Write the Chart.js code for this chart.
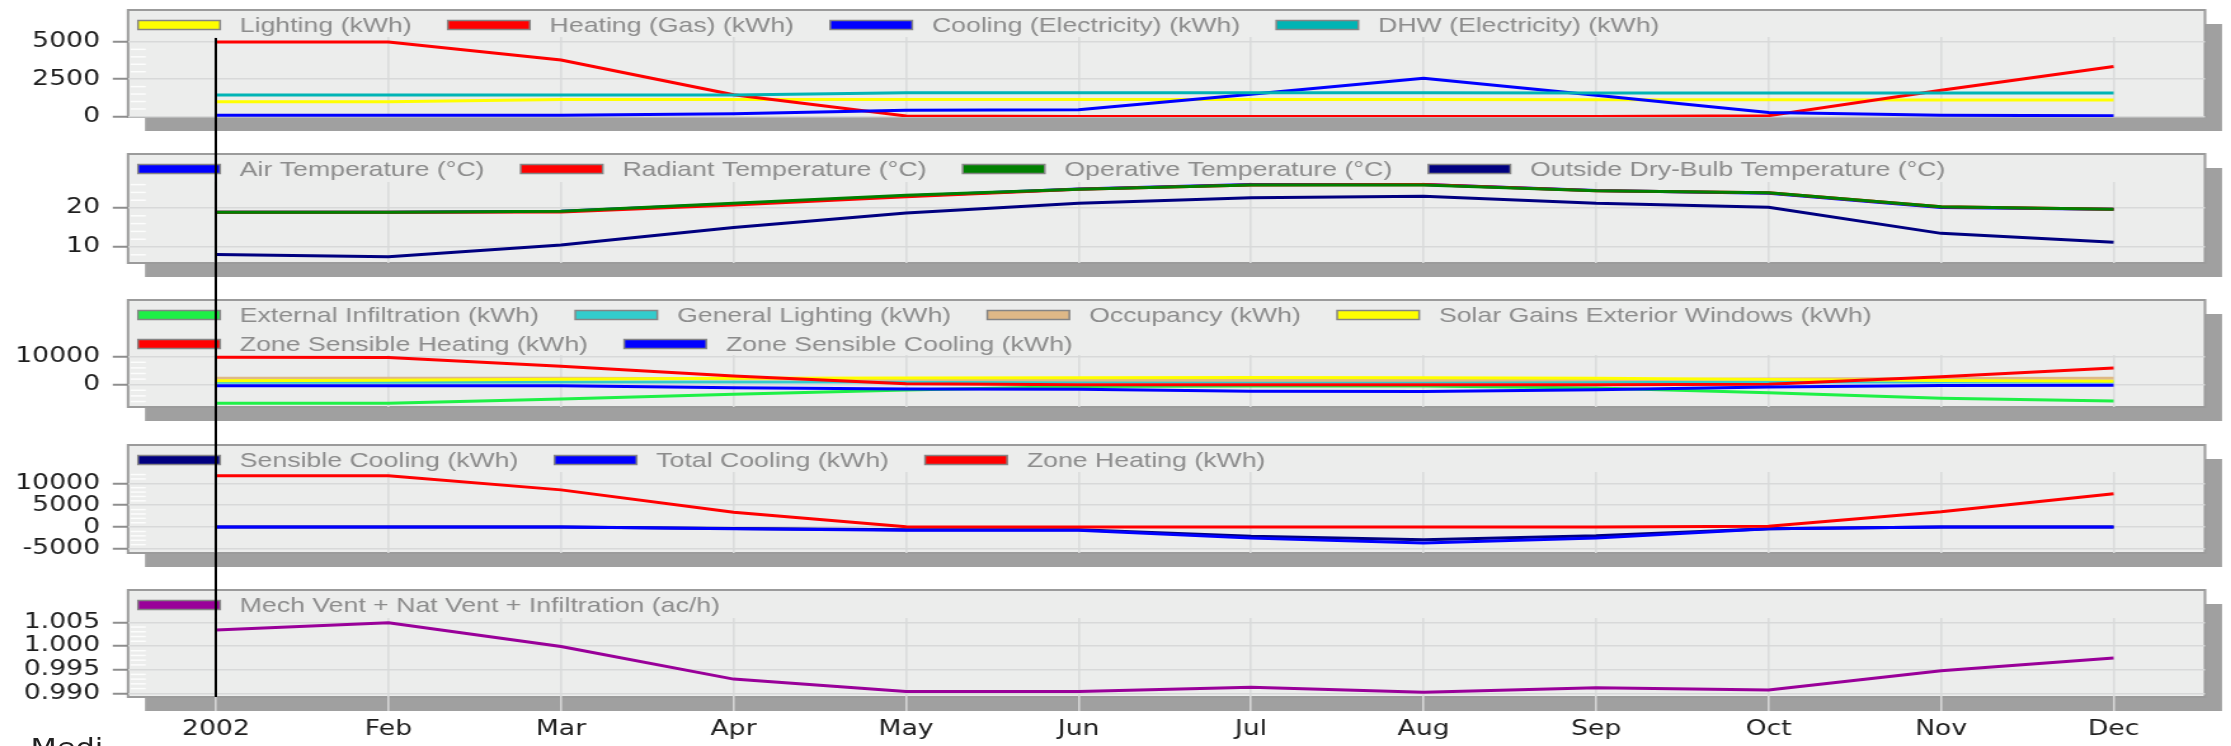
<!DOCTYPE html>
<html>
<head>
<meta charset="utf-8">
<title>Zone monthly results 2002</title>
<script src="https://cdn.jsdelivr.net/npm/chart.js@4.4.1/dist/chart.umd.min.js"></script>
<style>
  html, body { margin: 0; padding: 0; background: #fff; overflow: hidden; }
  /* the source picture is stretched sideways, so draw narrow and scale up */
  #page { position: relative; width: 1757px; height: 746px; overflow: hidden; transform: scaleX(1.2698); transform-origin: 0 0; }
  #page canvas { position: absolute; left: 0; }
  #cursor { position: absolute; background: #000; width: 1.6px; }
  #caption { position: absolute; left: 24px; top: 736px; font: 24px/24px "DejaVu Sans", Verdana, sans-serif; color: #222; white-space: nowrap; }
</style>
</head>
<body>
<div id="page">
  <canvas id="c1"></canvas>
  <canvas id="c2"></canvas>
  <canvas id="c3"></canvas>
  <canvas id="c4"></canvas>
  <canvas id="c5"></canvas>
  <div id="cursor"></div>
  <div id="caption">Medi</div>
</div>
<script>
// x axis
const monthLabels = ['2002', 'Feb', 'Mar', 'Apr', 'May', 'Jun', 'Jul', 'Aug', 'Sep', 'Oct', 'Nov', 'Dec'];

// fuel breakdown (kWh)
const lighting    = [980, 990, 1130, 1130, 1130, 1130, 1130, 1130, 1120, 1110, 1100, 1100];
const heatingGas  = [5000, 5000, 3780, 1450, 30, 0, 0, 0, 0, 50, 1750, 3350];
const coolingElec = [70, 70, 70, 180, 420, 450, 1480, 2560, 1420, 260, 80, 40];
const dhwElec     = [1430, 1430, 1430, 1430, 1590, 1590, 1590, 1590, 1570, 1570, 1570, 1570];
const ticks1 = [0, 2500, 5000];

// temperatures (C)
const airTemp       = [18.9, 18.9, 19.2, 21.0, 23.1, 24.9, 26.0, 26.0, 24.5, 23.8, 20.1, 19.7];
const radiantTemp   = [18.9, 18.9, 19.0, 20.8, 22.9, 24.8, 25.9, 26.0, 24.4, 23.9, 20.3, 19.7];
const operativeTemp = [18.9, 18.9, 19.2, 21.2, 23.3, 24.8, 25.9, 25.9, 24.4, 23.9, 20.3, 19.7];
const outsideTemp   = [8.1, 7.5, 10.5, 15.0, 18.7, 21.2, 22.6, 23.0, 21.2, 20.2, 13.5, 11.2];
const ticks2 = [10, 20];

// heat balance (kWh)
const extInfiltration = [-6650, -6650, -5100, -3400, -1900, -600, -500, -500, -1200, -2900, -4800, -5800];
const generalLighting = [900, 900, 1000, 1000, 1000, 1000, 1000, 1000, 1000, 1000, 1000, 1000];
const occupancy       = [2300, 2300, 2300, 2100, 1900, 1700, 1600, 1600, 1800, 2000, 2200, 2300];
const solarGains      = [1450, 1600, 1940, 2300, 2400, 2500, 2600, 2500, 2300, 1900, 1500, 1200];
const zoneSensHeating = [9800, 9700, 6600, 3100, 300, 0, 0, 0, 0, 200, 2800, 6000];
const zoneSensCooling = [-350, -350, -400, -1070, -1500, -1600, -2300, -2400, -1800, -800, -300, -200];
const ticks3 = [0, 10000];

// heating / cooling loads (kWh)
const sensibleCooling = [0, 0, 0, -300, -600, -600, -2100, -2900, -2000, -350, 0, 0];
const totalCooling    = [0, 0, 0, -360, -700, -700, -2500, -3600, -2500, -400, 0, 0];
const zoneHeating     = [11700, 11700, 8500, 3400, 100, 0, 0, 0, 0, 200, 3500, 7600];
const ticks4 = [-5000, 0, 5000, 10000];

// air changes (ac/h)
const ventAch = [1.00337, 1.0049, 0.99988, 0.9930, 0.99038, 0.9904, 0.99128, 0.9902, 0.99118, 0.9907, 0.99477, 0.99745];
const ticks5 = [0.990, 0.995, 1.000, 1.005];

const SX = 1.2698;          // horizontal stretch
const CANVAS_W = 1757;
const BOX_L = 100.8;        // box left edge (unscaled px)
const BOX_R = 1736.5;       // box right edge
const X_MIN = -0.51, X_MAX = 11.53;
const tickFont = { family: '"DejaVu Sans", Verdana, sans-serif', size: 21 };

const toXY = arr => arr.map((y, i) => ({ x: i, y: y }));

// draws the grey box, its drop shadow, minor ticks and the legend rows
const panelBox = {
  id: 'panelBox',
  beforeDraw(chart, args, o) {
    const { ctx, chartArea } = chart;
    const top = o.boxTop;
    const w = chartArea.right - chartArea.left;
    const h = chartArea.bottom - top;
    ctx.save();
    ctx.fillStyle = '#a0a0a0';
    ctx.fillRect(chartArea.left + 13.4, top + 14, w, h);
    ctx.fillStyle = '#ecedec';
    ctx.fillRect(chartArea.left, top, w, h);

    // faint minor ticks on the inside of the left edge
    const ys = chart.scales.y;
    const major = ys.ticks.map(t => t.value);
    const minor = (major[1] - major[0]) / 5;
    ctx.strokeStyle = 'rgba(255,255,255,0.85)';
    ctx.lineWidth = 1.5;
    for (let k = Math.ceil(ys.min / minor); k * minor <= ys.max; k++) {
      const v = k * minor;
      if (major.some(m => Math.abs(m - v) < minor / 10)) continue;
      const py = ys.getPixelForValue(v);
      ctx.beginPath();
      ctx.moveTo(chartArea.left + 2, py);
      ctx.lineTo(chartArea.left + 14, py);
      ctx.stroke();
    }

    ctx.strokeStyle = '#9b9b9b';
    ctx.lineWidth = 2;
    ctx.strokeRect(chartArea.left, top, w, h);

    ctx.font = '21px "Liberation Sans", Arial, sans-serif';
    ctx.textBaseline = 'middle';
    o.rows.forEach((row, r) => {
      let x = chartArea.left + 7.9;
      const y = top + 15 + r * 29;
      row.forEach(i => {
        const ds = chart.data.datasets[i];
        ctx.fillStyle = ds.borderColor;
        ctx.fillRect(x, y - 4.5, 64.6, 9);
        ctx.strokeStyle = '#858585';
        ctx.lineWidth = 1.5;
        ctx.strokeRect(x, y - 4.5, 64.6, 9);
        x += 64.6 + 15.5;
        ctx.fillStyle = '#8c8c8c';
        ctx.fillText(ds.label, x, y + 1);
        x += ctx.measureText(ds.label).width + 28.5;
      });
    });
    ctx.restore();
  }
};

function makePanel(id, geo, series, yOpts, rows, showX) {
  const canvas = document.getElementById(id);
  const cTop = geo.boxTop - 3;
  const cBottom = showX ? 746 : geo.plotBottom + 28;
  const cH = cBottom - cTop;
  canvas.width = CANVAS_W;
  canvas.height = cH;
  canvas.style.top = cTop + 'px';
  canvas.style.width = CANVAS_W + 'px';
  canvas.style.height = cH + 'px';

  const n = series.length;
  const datasets = series.map((s, i) => ({
    label: s.label,
    data: toXY(s.data),
    borderColor: s.color,
    backgroundColor: s.color,
    borderWidth: 3,
    pointRadius: 0,
    tension: 0,
    fill: false,
    order: n - i
  }));

  return new Chart(canvas, {
    type: 'line',
    data: { datasets: datasets },
    plugins: [panelBox],
    options: {
      responsive: false,
      animation: false,
      events: [],
      layout: {
        padding: {
          left: 0,
          right: CANVAS_W - BOX_R,
          top: geo.plotTop - cTop,
          bottom: showX ? 0 : cBottom - geo.plotBottom
        }
      },
      plugins: {
        legend: { display: false },
        tooltip: { enabled: false },
        panelBox: { boxTop: geo.boxTop - cTop, rows: rows }
      },
      scales: {
        x: {
          type: 'linear',
          min: X_MIN,
          max: X_MAX,
          border: { display: false },
          grid: {
            color: '#dbdcdc',
            lineWidth: 1.6,
            drawTicks: showX,
            tickLength: 14,
            tickColor: '#d6d6d6',
            tickWidth: 1.6
          },
          ticks: {
            display: showX,
            autoSkip: false,
            maxRotation: 0,
            padding: 6,
            color: '#1e1e1e',
            font: tickFont,
            callback: v => monthLabels[v]
          },
          afterBuildTicks: s => { s.ticks = monthLabels.map((m, i) => ({ value: i })); },
          afterFit: s => { s.height = showX ? cBottom - geo.plotBottom : 0; }
        },
        y: {
          min: yOpts.min,
          max: yOpts.max,
          border: { display: false },
          grid: {
            color: '#d8d9d9',
            lineWidth: 1.5,
            tickLength: 12,
            tickColor: '#8e8e8e',
            tickWidth: 2
          },
          ticks: {
            autoSkip: false,
            padding: 10,
            color: '#1e1e1e',
            font: tickFont,
            callback: yOpts.fmt || (v => String(v))
          },
          afterBuildTicks: s => { s.ticks = yOpts.ticks.map(v => ({ value: v })); },
          afterFit: s => { s.width = BOX_L; }
        }
      }
    }
  });
}

const c1 = makePanel('c1', { boxTop: 10, plotTop: 37, plotBottom: 117 }, [
  { label: 'Lighting (kWh)', data: lighting, color: '#ffff00' },
  { label: 'Heating (Gas) (kWh)', data: heatingGas, color: '#ff0000' },
  { label: 'Cooling (Electricity) (kWh)', data: coolingElec, color: '#0000ff' },
  { label: 'DHW (Electricity) (kWh)', data: dhwElec, color: '#00b4b4' }
], { min: -40, max: 5330, ticks: ticks1 }, [[0, 1, 2, 3]], false);

const c2 = makePanel('c2', { boxTop: 154, plotTop: 182, plotBottom: 263 }, [
  { label: 'Air Temperature (°C)', data: airTemp, color: '#0000ff' },
  { label: 'Radiant Temperature (°C)', data: radiantTemp, color: '#ff0000' },
  { label: 'Operative Temperature (°C)', data: operativeTemp, color: '#008000' },
  { label: 'Outside Dry-Bulb Temperature (°C)', data: outsideTemp, color: '#000080' }
], { min: 5.9, max: 26.67, ticks: ticks2 }, [[0, 1, 2, 3]], false);

const c3 = makePanel('c3', { boxTop: 300, plotTop: 355, plotBottom: 407 }, [
  { label: 'External Infiltration (kWh)', data: extInfiltration, color: '#1ef046' },
  { label: 'General Lighting (kWh)', data: generalLighting, color: '#33cccc' },
  { label: 'Occupancy (kWh)', data: occupancy, color: '#deb887' },
  { label: 'Solar Gains Exterior Windows (kWh)', data: solarGains, color: '#ffff00' },
  { label: 'Zone Sensible Heating (kWh)', data: zoneSensHeating, color: '#ff0000' },
  { label: 'Zone Sensible Cooling (kWh)', data: zoneSensCooling, color: '#0000ff' }
], { min: -7960, max: 10600, ticks: ticks3 }, [[0, 1, 2, 3], [4, 5]], false);

const c4 = makePanel('c4', { boxTop: 445, plotTop: 472, plotBottom: 553 }, [
  { label: 'Sensible Cooling (kWh)', data: sensibleCooling, color: '#000080' },
  { label: 'Total Cooling (kWh)', data: totalCooling, color: '#0000ff' },
  { label: 'Zone Heating (kWh)', data: zoneHeating, color: '#ff0000' }
], { min: -5910, max: 12580, ticks: ticks4 }, [[0, 1, 2]], false);

const c5 = makePanel('c5', { boxTop: 590, plotTop: 618, plotBottom: 697 }, [
  { label: 'Mech Vent + Nat Vent + Infiltration (ac/h)', data: ventAch, color: '#990099' }
], { min: 0.98922, max: 1.00591, ticks: ticks5, fmt: v => v.toFixed(3) }, [[0]], true);

// date cursor running through all panels
const cursor = document.getElementById('cursor');
const cx = c5.scales.x.getPixelForValue(0);
const cTop1 = parseFloat(c1.canvas.style.top);
const cTop5 = parseFloat(c5.canvas.style.top);
cursor.style.left = (cx - 0.8) + 'px';
cursor.style.top = (cTop1 + c1.chartArea.top + 1) + 'px';
cursor.style.height = (cTop5 + c5.chartArea.bottom - cTop1 - c1.chartArea.top - 1) + 'px';
</script>
</body>
</html>
